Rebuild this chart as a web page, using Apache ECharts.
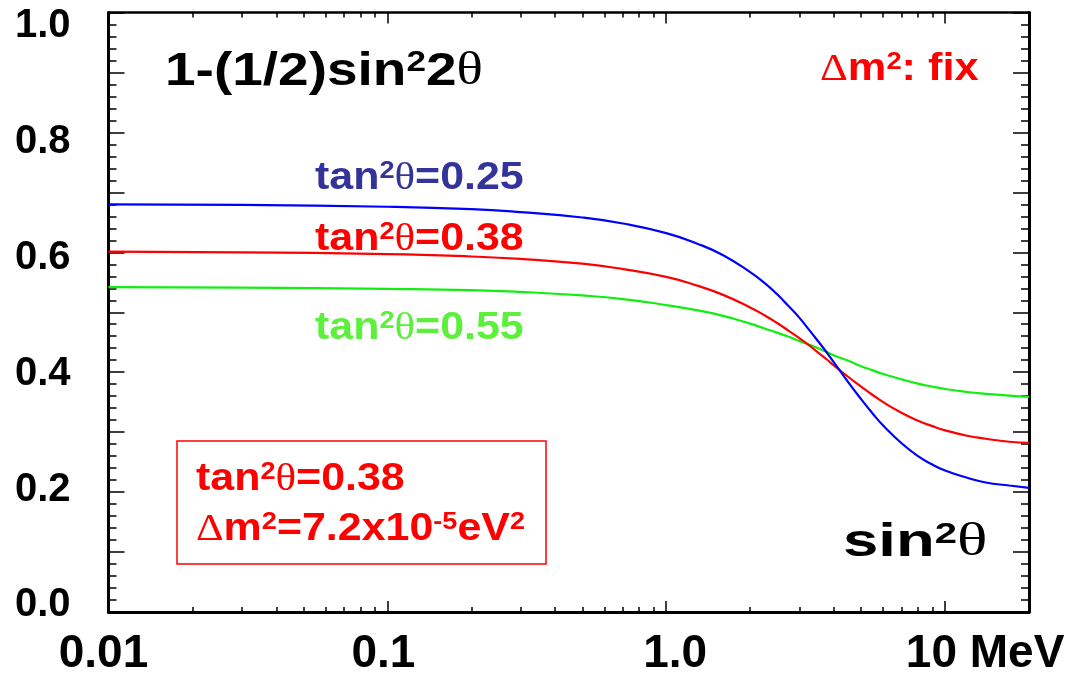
<!DOCTYPE html>
<html>
<head>
<meta charset="utf-8">
<script src="https://cdn.jsdelivr.net/npm/echarts@6/dist/echarts.min.js"></script>
<style>
  html, body { margin: 0; padding: 0; background: #ffffff; }
  #chart { width: 1070px; height: 677px; }
</style>
</head>
<body>
<div id="chart"></div>
<script>
// Neutrino energy (MeV) at which the survival probability is sampled
const energies = [0.01, 0.03, 0.1, 0.2, 0.3, 0.5, 0.7, 1, 1.3, 1.6, 2, 2.25, 2.5, 2.75, 3, 3.25, 3.5, 3.75, 4, 4.5, 5, 5.5, 6, 7, 8, 9, 10, 12, 14, 17, 20];
// Survival probability for three mixing angles (dm^2 fixed)
const probTan025 = [0.680, 0.679, 0.676, 0.672, 0.667, 0.658, 0.648, 0.632, 0.614, 0.595, 0.567, 0.549, 0.530, 0.510, 0.491, 0.471, 0.452, 0.434, 0.416, 0.383, 0.355, 0.331, 0.311, 0.281, 0.260, 0.246, 0.236, 0.224, 0.216, 0.211, 0.207];
const probTan038 = [0.601, 0.600, 0.597, 0.593, 0.589, 0.581, 0.572, 0.559, 0.544, 0.529, 0.508, 0.495, 0.482, 0.469, 0.457, 0.445, 0.433, 0.422, 0.411, 0.392, 0.376, 0.362, 0.350, 0.332, 0.319, 0.310, 0.303, 0.294, 0.289, 0.284, 0.282];
const probTan055 = [0.542, 0.541, 0.539, 0.537, 0.534, 0.528, 0.522, 0.512, 0.503, 0.494, 0.481, 0.473, 0.466, 0.459, 0.452, 0.446, 0.440, 0.434, 0.428, 0.419, 0.410, 0.403, 0.397, 0.388, 0.381, 0.376, 0.372, 0.367, 0.364, 0.361, 0.359];

// Axis ticks and labels
const xMajorTicks = [0.01, 0.1, 1, 10];
const xTickLabels = ['0.01', '0.1', '1.0', '10 MeV'];
const xMinorTicks = [0.02, 0.03, 0.04, 0.05, 0.06, 0.07, 0.08, 0.09,
                     0.2, 0.3, 0.4, 0.5, 0.6, 0.7, 0.8, 0.9,
                     2, 3, 4, 5, 6, 7, 8, 9, 20];
const yLabelValues = [0, 0.2, 0.4, 0.6, 0.8, 1.0];
const yTickLabels = ['0.0', '0.2', '0.4', '0.6', '0.8', '1.0'];

const SANS = 'Liberation Sans';
const SERIF = 'Liberation Serif';

const toPairs = (ys) => energies.map((e, i) => [e, ys[i]]);

// rich-text styles: normal bold text, superscript, greek glyphs
function richStyles(fs, color) {
  const sup = Math.round(fs * 0.64);
  return {
    n: { fontFamily: SANS, fontWeight: 'bold', fontSize: fs, lineHeight: fs, fill: color },
    s: { fontFamily: SANS, fontWeight: 'bold', fontSize: sup, lineHeight: sup, verticalAlign: 'top', fill: color },
    g: { fontFamily: SERIF, fontWeight: 'normal', fontSize: fs, lineHeight: fs, fill: color }
  };
}

function label(text, x, baseline, fs, color, sx) {
  return {
    type: 'text',
    x: x,
    y: baseline - 0.8465 * fs,
    scaleX: sx,
    z: 100,
    style: {
      text: text,
      rich: richStyles(fs, color),
      fill: color,
      align: 'left',
      verticalAlign: 'top'
    }
  };
}

const xLabelRich = {
  l0: { fontFamily: SANS, fontWeight: 'bold', fontSize: 46, color: '#000', padding: [0, 10, 0, 0] },
  l1: { fontFamily: SANS, fontWeight: 'bold', fontSize: 46, color: '#000', padding: [0, 8, 0, 0] },
  l2: { fontFamily: SANS, fontWeight: 'bold', fontSize: 46, color: '#000', padding: [0, 0, 0, 18] },
  l3: { fontFamily: SANS, fontWeight: 'bold', fontSize: 46, color: '#000', padding: [0, 0, 0, 80] }
};

function xLabelFormatter(v) {
  const lv = Math.log10(v);
  for (let i = 0; i < xMajorTicks.length; i++) {
    if (Math.abs(lv - Math.log10(xMajorTicks[i])) < 1e-6) {
      return '{l' + i + '|' + xTickLabels[i] + '}';
    }
  }
  return '';
}

function yLabelFormatter(v) {
  for (let i = 0; i < yLabelValues.length; i++) {
    if (Math.abs(v - yLabelValues[i]) < 1e-6) return yTickLabels[i];
  }
  return '';
}

function logAxis(pos, majorLen, minorOnly, lineWidth) {
  return {
    type: 'log', logBase: 10, min: 0.01, max: 20, position: pos,
    splitLine: { show: false },
    axisLine: { show: !minorOnly, onZero: false, lineStyle: { color: '#000', width: lineWidth } },
    axisTick: {
      show: true, inside: true, length: minorOnly ? 5 : majorLen,
      lineStyle: { color: '#000', width: 1.5 },
      customValues: minorOnly ? xMinorTicks : xMajorTicks
    },
    axisLabel: { show: false }
  };
}

const frameTicks = (pos) => ({
  type: 'value', position: pos, min: 0, max: 1, interval: 0.1,
  splitLine: { show: false },
  axisLine: { show: true, onZero: false, lineStyle: { color: '#000', width: 3 } },
  axisTick: { show: true, inside: true, length: 16, lineStyle: { color: '#000', width: 1.5 } },
  minorTick: { show: true, splitNumber: 5, length: 8, lineStyle: { color: '#000', width: 1.5 } },
  axisLabel: { show: false }
});

const bottomAxis = logAxis('bottom', 11, false, 3);
bottomAxis.axisLabel = { show: true, customValues: xMajorTicks, margin: 19, formatter: xLabelFormatter, rich: xLabelRich };

const chart = echarts.init(document.getElementById('chart'), null, { renderer: 'canvas' });
chart.setOption({
  animation: false,
  backgroundColor: '#ffffff',
  grid: { left: 108.5, right: 41, top: 12.5, bottom: 64.3, containLabel: false },
  xAxis: [
    bottomAxis,
    logAxis('bottom', 11, true, 3),
    logAxis('top', 11, false, 2.5),
    logAxis('top', 11, true, 2.5)
  ],
  yAxis: [
    frameTicks('left'),
    frameTicks('right'),
    {
      // label scale: the printed numbers sit on a slightly tighter pitch than the ticks
      type: 'value', position: 'left', min: -0.0116, max: 1.0238,
      splitLine: { show: false }, axisLine: { show: false, onZero: false }, axisTick: { show: false },
      axisLabel: {
        show: true, customValues: yLabelValues, margin: 38, formatter: yLabelFormatter,
        fontFamily: SANS, fontWeight: 'bold', fontSize: 40, color: '#000'
      }
    }
  ],
  series: [
    { name: 'tan2=0.55', type: 'line', data: toPairs(probTan055), smooth: true, showSymbol: false,
      lineStyle: { color: '#11ee11', width: 2.2 }, itemStyle: { color: '#11ee11' } },
    { name: 'tan2=0.38', type: 'line', data: toPairs(probTan038), smooth: true, showSymbol: false,
      lineStyle: { color: '#ff0000', width: 2.2 }, itemStyle: { color: '#ff0000' } },
    { name: 'tan2=0.25', type: 'line', data: toPairs(probTan025), smooth: true, showSymbol: false,
      lineStyle: { color: '#0000ff', width: 2.2 }, itemStyle: { color: '#0000ff' } }
  ],
  graphic: [
    label('{n|1-(1/2)sin}{s|2}{n|2}{g|θ}', 165, 88, 47, '#000000', 1.17),
    label('{g|Δ}{n|m}{s|2}{n|: fix}', 820, 83, 38, '#ff0000', 1.14),
    label('{n|tan}{s|2}{g|θ}{n|=0.25}', 315, 192, 38, '#333399', 1.13),
    label('{n|tan}{s|2}{g|θ}{n|=0.38}', 315, 253, 38, '#ff0000', 1.13),
    label('{n|tan}{s|2}{g|θ}{n|=0.55}', 315, 342, 38, '#5cf03c', 1.13),
    {
      type: 'rect', z: 90,
      shape: { x: 177, y: 441, width: 369, height: 123 },
      style: { fill: 'none', stroke: '#ff0000', lineWidth: 1.5 }
    },
    label('{n|tan}{s|2}{g|θ}{n|=0.38}', 196, 493, 38, '#ff0000', 1.13),
    label('{g|Δ}{n|m}{s|2}{n|=7.2x10}{s|-5}{n|eV}{s|2}', 196, 543, 38, '#ff0000', 1.13),
    label('{n|sin}{s|2}{g|θ}', 843, 559, 46, '#000000', 1.38)
  ]
});
</script>
</body>
</html>
